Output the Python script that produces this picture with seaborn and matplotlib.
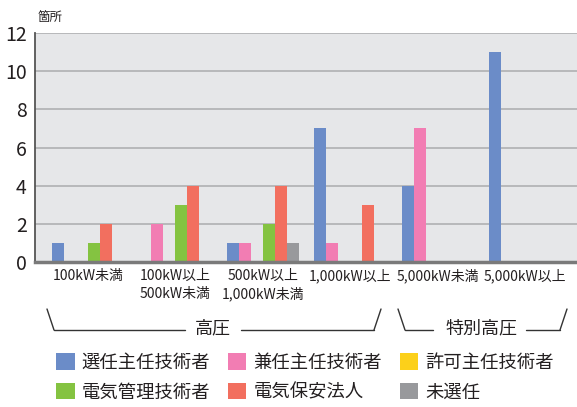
import matplotlib
matplotlib.use('Agg')
import matplotlib.pyplot as plt
from matplotlib.lines import Line2D
import seaborn as sns
import pandas as pd

groups = ['100kW未満', '100kW以上\n500kW未満', '500kW以上\n1,000kW未満',
          '1,000kW以上', '5,000kW未満', '5,000kW以上']
series = ['選任主任技術者', '兼任主任技術者', '許可主任技術者',
          '電気管理技術者', '電気保安法人', '未選任']
colors = ['#6b8cc8', '#f27db3', '#fcd01a', '#84c341', '#f26f5f', '#98999c']

senin = [1, 0, 1, 7, 4, 11]
kennin = [0, 2, 1, 1, 7, 0]
kyoka = [0, 0, 0, 0, 0, 0]
kanri = [1, 3, 2, 0, 0, 0]
hoan = [2, 4, 4, 3, 0, 0]
misenin = [0, 0, 1, 0, 0, 0]

values = [senin, kennin, kyoka, kanri, hoan, misenin]
rows = []
for s, vals in zip(series, values):
    for g, v in zip(groups, vals):
        rows.append({'group': g, 'series': s, 'count': v})
df = pd.DataFrame(rows)

sns.set_theme(style='white')
plt.rcParams['font.family'] = ['Noto Sans CJK JP', 'DejaVu Sans']
TXT = '#231f20'

W, H = 577, 407
fig = plt.figure(figsize=(W / 100, H / 100), dpi=100)
ax = fig.add_axes([35 / W, 1 - 262 / H, (577 - 35) / W, (262 - 33) / H])
ax.set_facecolor('#e6e7e9')

sns.barplot(data=df, x='group', y='count', hue='series', hue_order=series,
            palette=colors, width=72 / 87.5, saturation=1, ax=ax,
            edgecolor='none', linewidth=0)

ax.set_ylim(0, 12)
ax.set_xlim((35 - 87.75) / 87.5, (577 - 87.75) / 87.5)
ax.set_yticks(range(0, 13, 2))
ax.grid(axis='y', color='#b4b5b7', linewidth=1.3)
ax.set_axisbelow(True)
for s in ['top', 'right']:
    ax.spines[s].set_visible(False)
ax.spines['left'].set_color('#555555')
ax.spines['left'].set_linewidth(1.3)
ax.spines['bottom'].set_color('#7a7a7a')
ax.spines['bottom'].set_linewidth(2.5)
ax.set_xlabel('')
ax.set_ylabel('')
ax.tick_params(axis='y', length=0, labelsize=14, pad=6, labelcolor=TXT)
ax.tick_params(axis='x', which='major', length=0, labelsize=10, pad=5, labelcolor=TXT)
ax.set_xticks([i - 0.5 for i in range(7)], minor=True)
ax.tick_params(axis='x', which='minor', direction='in', length=6, width=1.5, color='#444444')
for lbl in ax.get_xticklabels():
    lbl.set_linespacing(1.35)

fig.text(38 / W, 1 - 17.5 / H, '箇所', fontsize=9, color=TXT, va='center', ha='left')

# group brackets
def px(x, y):
    return x / W, 1 - y / H

def bracket(x0, x1, t0, t1, label, cx):
    c = '#333333'
    for xs, ys in [((x0, x0 + 7), (309, 330)), ((x0 + 7, t0), (330, 330)),
                   ((t1, x1 - 7), (330, 330)), ((x1 - 7, x1), (330, 309))]:
        a = px(xs[0], ys[0])
        b = px(xs[1], ys[1])
        fig.add_artist(Line2D([a[0], b[0]], [a[1], b[1]], color=c, lw=1))
    fig.text(*px(cx, 328), label, fontsize=13, color=TXT, ha='center', va='center')

bracket(47, 381, 185, 241, '高圧', 213)
bracket(398, 567, 433, 526, '特別高圧', 481)

handles, labels = ax.get_legend_handles_labels()
ax.get_legend().remove()
order = [0, 3, 1, 4, 2, 5]
fig.legend([handles[i] for i in order], [labels[i] for i in order], ncol=3,
           loc='upper left', bbox_to_anchor=(47 / W, 1 - 344 / H), frameon=False,
           fontsize=13.2, handlelength=1, handleheight=1, handletextpad=0.4,
           columnspacing=0.95, labelspacing=0.62, borderpad=0, labelcolor=TXT)

fig.savefig('out.png', dpi=100)
